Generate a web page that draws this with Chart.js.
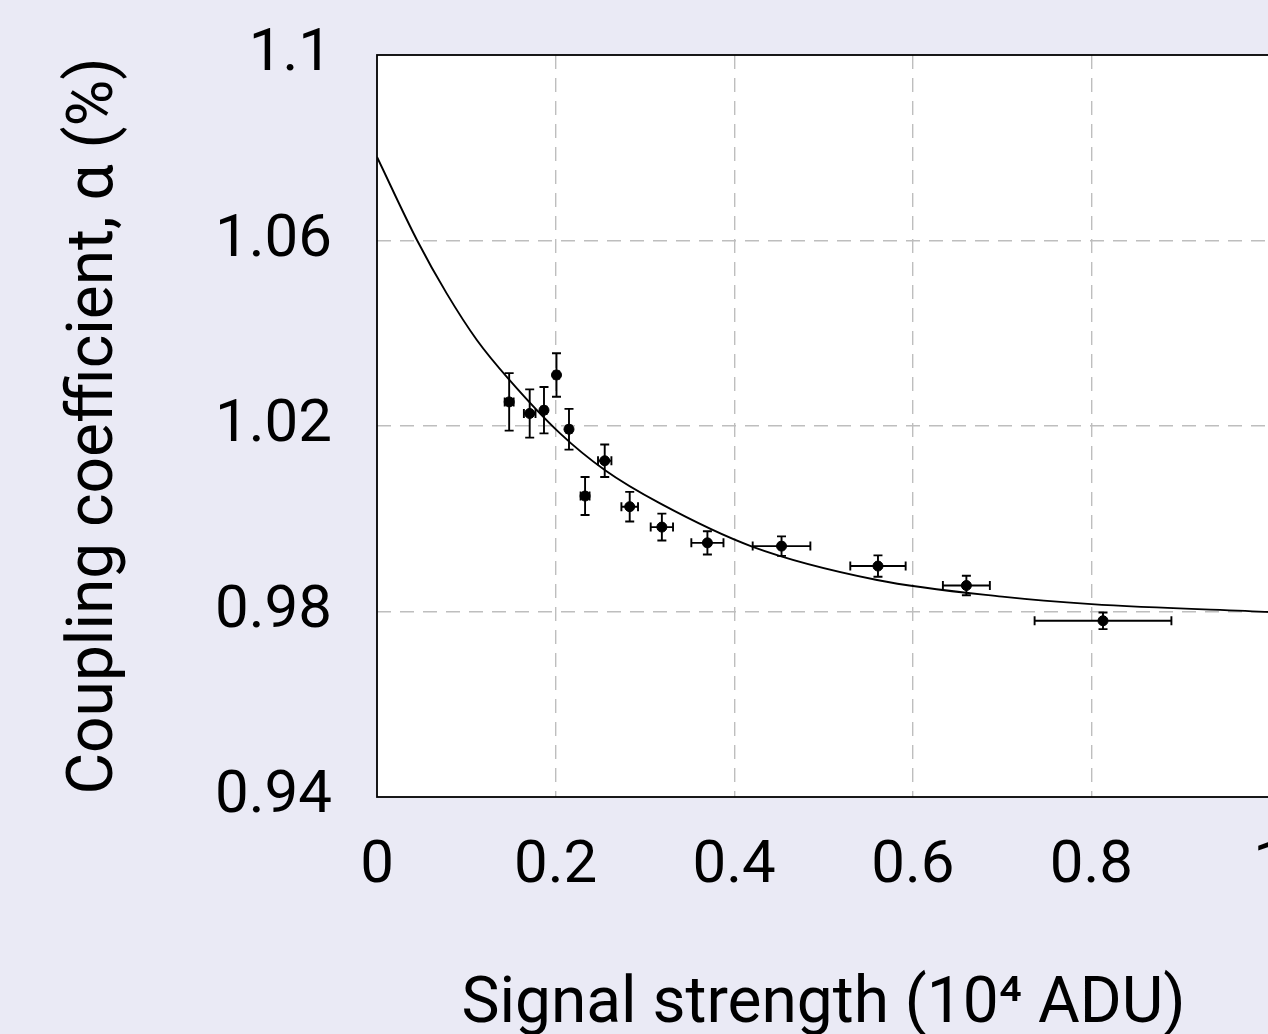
<!DOCTYPE html>
<html>
<head>
<meta charset="utf-8">
<script src="https://cdn.jsdelivr.net/npm/chart.js@4.4.1/dist/chart.umd.min.js"></script>
<style>
  html, body { margin: 0; padding: 0; background: rgb(234, 234, 245); overflow: hidden; }
  #wrap { width: 1318px; height: 1044px; }
</style>
</head>
<body>
<div id="wrap"><canvas id="couplingChart" width="1318" height="1044"></canvas></div>
<script>
// measured points
const signal   = [0.148, 0.171, 0.187, 0.201, 0.215, 0.233, 0.255, 0.283, 0.319, 0.370, 0.453, 0.561, 0.660, 0.813]
const coupling = [1.0252, 1.0227, 1.0234, 1.0310, 1.0193, 1.0049, 1.0125, 1.0026, 0.9982, 0.9948, 0.9941, 0.9898, 0.9856, 0.9780]
const signalErr   = [0.005, 0.0065, 0.003, 0.003, 0.003, 0.005, 0.0075, 0.0093, 0.0125, 0.018, 0.0323, 0.031, 0.0263, 0.0766]
const couplingErr = [0.0062, 0.0052, 0.0050, 0.0047, 0.0044, 0.0041, 0.0035, 0.0032, 0.0029, 0.0025, 0.0021, 0.0023, 0.0021, 0.0018]

// fitted curve
const fitX = [0, 0.045, 0.078, 0.112, 0.148, 0.205, 0.255, 0.317, 0.42, 0.56, 0.70, 0.80, 1.0]
const fitY = [1.078, 1.060, 1.0486, 1.0385, 1.030, 1.0184, 1.0105, 1.0033, 0.994, 0.9868, 0.9832, 0.9816, 0.9799]

const xTicks = [0, 0.2, 0.4, 0.6, 0.8, 1]
const yTicks = [0.94, 0.98, 1.02, 1.06, 1.1]

const FONT = 'Roboto'

const frame = {
    id: 'frame',
    beforeDraw(chart) {
        const { ctx, chartArea: a } = chart
        ctx.save()
        ctx.fillStyle = '#fff'
        ctx.fillRect(a.left, a.top, a.right - a.left, a.bottom - a.top)
        ctx.restore()
    },
    beforeDatasetsDraw(chart) {
        const { ctx, chartArea: a } = chart
        ctx.save()
        ctx.strokeStyle = '#000'
        ctx.lineWidth = 1.8
        ctx.strokeRect(a.left, a.top, a.right - a.left, a.bottom - a.top)
        ctx.restore()
    }
}

const errorBars = {
    id: 'errorBars',
    afterDatasetsDraw(chart) {
        const { ctx } = chart
        const xs = chart.scales.x, ys = chart.scales.y
        const cap = 4.5
        ctx.save()
        ctx.strokeStyle = '#000'
        ctx.lineWidth = 1.9
        signal.forEach((sx, i) => {
            const px = xs.getPixelForValue(sx)
            const py = ys.getPixelForValue(coupling[i])
            const y1 = ys.getPixelForValue(coupling[i] + couplingErr[i])
            const y2 = ys.getPixelForValue(coupling[i] - couplingErr[i])
            const x1 = xs.getPixelForValue(sx - signalErr[i])
            const x2 = xs.getPixelForValue(sx + signalErr[i])
            ctx.beginPath()
            ctx.moveTo(px, y1); ctx.lineTo(px, y2)
            ctx.moveTo(px - cap, y1); ctx.lineTo(px + cap, y1)
            ctx.moveTo(px - cap, y2); ctx.lineTo(px + cap, y2)
            ctx.moveTo(x1, py); ctx.lineTo(x2, py)
            ctx.moveTo(x1, py - cap); ctx.lineTo(x1, py + cap)
            ctx.moveTo(x2, py - cap); ctx.lineTo(x2, py + cap)
            ctx.stroke()
        })
        ctx.restore()
    }
}

const gridColor = (ctx, edges) => edges.includes(ctx.tick && ctx.tick.value) ? 'rgba(0,0,0,0)' : 'rgb(190,190,190)'

new Chart(document.getElementById('couplingChart'), {
    data: {
        datasets: [
            {
                type: 'scatter',
                label: 'Measured',
                data: signal.map((x, i) => ({ x, y: coupling[i] })),
                backgroundColor: '#000',
                borderColor: '#000',
                pointRadius: 5,
                pointHoverRadius: 5,
                order: 1
            },
            {
                type: 'line',
                label: 'Fit',
                data: fitX.map((x, i) => ({ x, y: fitY[i] })),
                borderColor: '#000',
                borderWidth: 1.9,
                pointRadius: 0,
                fill: false,
                cubicInterpolationMode: 'monotone',
                order: 2
            }
        ]
    },
    options: {
        responsive: false,
        animation: false,
        devicePixelRatio: 1,
        layout: { padding: { top: 55, right: 48, left: 0, bottom: 0 } },
        plugins: {
            legend: { display: false },
            tooltip: { enabled: false }
        },
        scales: {
            x: {
                type: 'linear',
                min: 0,
                max: 1,
                afterFit: s => {
                    s.height = 247
                    s.paddingLeft = 0
                    s.paddingRight = 0
                },
                afterBuildTicks: s => { s.ticks = xTicks.map(v => ({ value: v })) },
                ticks: {
                    color: '#000',
                    padding: 34,
                    font: { family: FONT, size: 60 },
                    callback: v => String(v)
                },
                grid: {
                    drawTicks: false,
                    color: c => gridColor(c, [0, 1]),
                    lineWidth: 1.4
                },
                border: { display: false, dash: [14, 9] },
                title: {
                    display: true,
                    text: 'Signal strength (10⁴ ADU)',
                    color: '#000',
                    font: { family: FONT, size: 64 },
                    padding: { top: 0, bottom: 0 }
                }
            },
            y: {
                type: 'linear',
                min: 0.94,
                max: 1.1,
                afterFit: s => {
                    s.width = 377
                    s.paddingTop = 0
                    s.paddingBottom = 0
                },
                afterBuildTicks: s => { s.ticks = yTicks.map(v => ({ value: v })) },
                ticks: {
                    color: '#000',
                    padding: 45,
                    font: { family: FONT, size: 60 },
                    callback: v => String(v)
                },
                grid: {
                    drawTicks: false,
                    color: c => gridColor(c, [0.94, 1.1]),
                    lineWidth: 1.4
                },
                border: { display: false, dash: [14, 9] },
                title: {
                    display: true,
                    text: 'Coupling coefficient, α (%)',
                    color: '#000',
                    font: { family: FONT, size: 64 },
                    padding: { top: 58, bottom: 0 }
                }
            }
        }
    },
    plugins: [frame, errorBars]
})
</script>
</body>
</html>
